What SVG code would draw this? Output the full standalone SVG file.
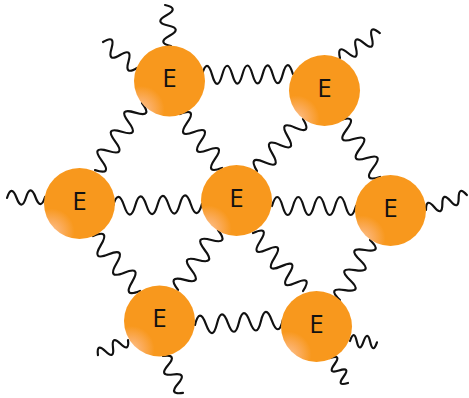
<svg xmlns="http://www.w3.org/2000/svg" width="469" height="398" viewBox="0 0 469 398">
<defs>
<radialGradient id="g" cx="0.1" cy="0.9" r="0.33" fx="0.08" fy="0.92">
<stop offset="0" stop-color="#fdc597"/>
<stop offset="0.5" stop-color="#fbac5c"/>
<stop offset="1" stop-color="#f8981d"/>
</radialGradient>
<style>
.w{fill:none;stroke:#111;stroke-width:2.2;stroke-linecap:round;stroke-linejoin:round}
.n circle{fill:url(#g)}
.n text{font-family:"Open Sans","Noto Sans",sans-serif;font-size:26px;fill:#111;text-anchor:middle}
</style>
</defs>
<g id="connectors">
<path class="w" transform="translate(202,75) rotate(-0.6)" d="M0 0q5.05 -18 10.1 0t10.1 0t10.1 0t10.1 0t10.1 0t10.1 0t10.1 0t10.1 0t10.1 0"/>
<path class="w" transform="translate(113,206) rotate(-1.3)" d="M0 0q5.56 -18 11.12 0t11.12 0t11.12 0t11.12 0t11.12 0t11.12 0t11.12 0t11.12 0"/>
<path class="w" transform="translate(272,206)" d="M0 0q5.25 -18 10.5 0t10.5 0t10.5 0t10.5 0t10.5 0t10.5 0t10.5 0t10.5 0"/>
<path class="w" transform="translate(195,325) rotate(-3.3)" d="M0 0q5.5 -18 11 0t11 0t11 0t11 0t11 0t11 0t11 0t11 0"/>
<path class="w" transform="translate(142,103) rotate(125)" d="M0 0q5.86 -18 11.71 0t11.71 0t11.71 0t11.71 0t11.71 0t11.71 0t11.71 0"/>
<path class="w" transform="translate(180,114) rotate(52.1)" d="M0 0q5.7 -18 11.4 0t11.4 0t11.4 0t11.4 0t11.4 0t11.4 0"/>
<path class="w" transform="translate(303,119) rotate(131.5)" d="M0 0q5.78 -18 11.57 0t11.57 0t11.57 0t11.57 0t11.57 0t11.57 0"/>
<path class="w" transform="translate(340,120) rotate(54.9)" d="M0 0q5.8 -18 11.6 0t11.6 0t11.6 0t11.6 0t11.6 0t11.6 0"/>
<path class="w" transform="translate(93,236) rotate(49.5)" d="M0 0q6.02 -18 12.05 0t12.05 0t12.05 0t12.05 0t12.05 0t12.05 0"/>
<path class="w" transform="translate(218,230) rotate(123.7)" d="M0 0q6 -18 12 0t12 0t12 0t12 0t12 0t12 0"/>
<path class="w" transform="translate(253,233) rotate(49.2)" d="M0 0q5.47 -18 10.94 0t10.94 0t10.94 0t10.94 0t10.94 0t10.94 0t10.94 0"/>
<path class="w" transform="translate(370,240) rotate(116.6)" d="M0 0q5.6 -18 11.2 0t11.2 0t11.2 0t11.2 0t11.2 0t11.2 0"/>
<path class="w" transform="translate(171,46) rotate(-98.3)" d="M0 0q5.17 -14 10.35 0t10.35 0t10.35 0t10.35 0"/>
<path class="w" transform="translate(137,68) rotate(-142.6)" d="M0 0q5.35 -14 10.7 0t10.7 0t10.7 0t10.7 0"/>
<path class="w" transform="translate(340,58) rotate(-32)" d="M0 0q4.7 -14 9.4 0t9.4 0t9.4 0t9.4 0t9.4 0"/>
<path class="w" transform="translate(45,197) rotate(178.5)" d="M0 0q4.75 -14 9.5 0t9.5 0t9.5 0t9.5 0"/>
<path class="w" transform="translate(426,210) rotate(-20.1)" d="M0 0q4.35 -12 8.7 0t8.7 0t8.7 0t8.7 0t8.7 0"/>
<path class="w" transform="translate(128,340) rotate(153.4)" d="M0 0q4.2 -12 8.4 0t8.4 0t8.4 0t8.4 0"/>
<path class="w" transform="translate(163,356) rotate(61.6)" d="M0 0q5.25 -14 10.5 0t10.5 0t10.5 0t10.5 0"/>
<path class="w" transform="translate(350,341) rotate(3)" d="M0 0q3.37 -12 6.75 0t6.75 0t6.75 0t6.75 0"/>
<path class="w" transform="translate(330,358) rotate(54.2)" d="M0 0q3.85 -12 7.7 0t7.7 0t7.7 0t7.7 0"/>
</g>
<g id="n1" class="n"><circle cx="169.5" cy="81" r="35.5"/><text x="169.5" y="87">E</text></g>
<g id="n2" class="n"><circle cx="324.5" cy="90.5" r="35.5"/><text x="324.5" y="96.5">E</text></g>
<g id="n3" class="n"><circle cx="79.5" cy="203.5" r="35.5"/><text x="79.5" y="209.5">E</text></g>
<g id="n4" class="n"><circle cx="236.5" cy="200.5" r="35.5"/><text x="236.5" y="206.5">E</text></g>
<g id="n5" class="n"><circle cx="390.5" cy="210.5" r="35.5"/><text x="390.5" y="216.5">E</text></g>
<g id="n6" class="n"><circle cx="159.5" cy="321" r="35.5"/><text x="159.5" y="327">E</text></g>
<g id="n7" class="n"><circle cx="316.5" cy="326.5" r="35.5"/><text x="316.5" y="332.5">E</text></g>
</svg>
